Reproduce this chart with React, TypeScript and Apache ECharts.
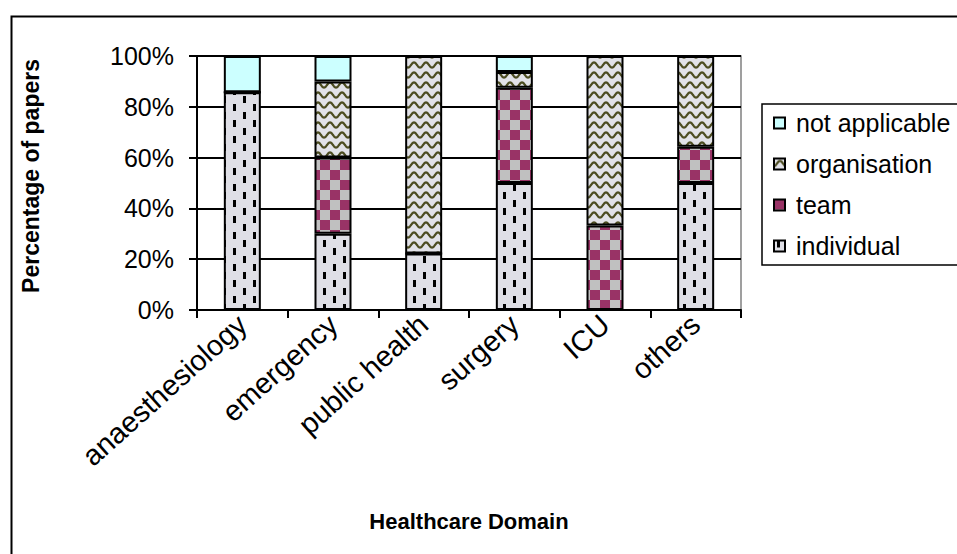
import React, { useEffect, useRef } from "react";
import * as echarts from "echarts";

// Share of papers (%) per healthcare domain, split by level of analysis
const categories = ["anaesthesiology", "emergency", "public health", "surgery", "ICU", "others"];
const individual = [85.7, 30, 22.2, 50, 0, 50];
const team = [0, 30, 0, 37.5, 33.3, 14.3];
const organisation = [0, 30, 77.8, 6.25, 66.7, 35.7];
const notApplicable = [14.3, 10, 0, 6.25, 0, 0];
const legendOrder = ["not applicable", "organisation", "team", "individual"];

const FONT = "'Liberation Sans', Arial, Helvetica, sans-serif";

// Build a repeating fill pattern from a small canvas tile
function makeTile(w: number, h: number, draw: (ctx: CanvasRenderingContext2D) => void) {
  const c = document.createElement("canvas");
  c.width = w;
  c.height = h;
  const ctx = c.getContext("2d") as CanvasRenderingContext2D;
  draw(ctx);
  return { image: c.toDataURL(), repeat: "repeat", imageWidth: w, imageHeight: h } as any;
}

export default function App() {
  const ref = useRef<HTMLDivElement>(null);

  useEffect(() => {
    document.body.style.margin = "0";
    if (!ref.current) return;
    const chart = echarts.init(ref.current, undefined, { renderer: "svg" });

    // dashed vertical strokes on light grey
    const dashFill = makeTile(20, 16, (ctx) => {
      ctx.fillStyle = "#dfdfe6";
      ctx.fillRect(0, 0, 20, 16);
      ctx.fillStyle = "#000000";
      ctx.fillRect(3, 0, 3, 7);
      ctx.fillRect(13, 8, 3, 7);
    });
    // checkerboard, plum and silver
    const checkFill = makeTile(20, 20, (ctx) => {
      ctx.fillStyle = "#c0c0c0";
      ctx.fillRect(0, 0, 20, 20);
      ctx.fillStyle = "#993366";
      ctx.fillRect(0, 0, 10, 10);
      ctx.fillRect(10, 10, 10, 10);
    });
    // olive wavy lines on light grey
    const waveFill = makeTile(12, 10, (ctx) => {
      ctx.fillStyle = "#e2e2e8";
      ctx.fillRect(0, 0, 12, 10);
      ctx.strokeStyle = "#4d4d22";
      ctx.lineWidth = 2.2;
      ctx.beginPath();
      for (let x = -1; x <= 13; x += 0.5) {
        const y = 5 + 2.6 * Math.cos((2 * Math.PI * x) / 12);
        if (x === -1) ctx.moveTo(x, y);
        else ctx.lineTo(x, y);
      }
      ctx.stroke();
    });

    const barBase = {
      type: "bar" as const,
      stack: "total",
      barWidth: 37,
      emphasis: { disabled: true },
      itemStyle: { borderColor: "#000", borderWidth: 2 },
    };

    chart.setOption({
      animation: false,
      textStyle: { fontFamily: FONT },
      graphic: [
        {
          type: "rect",
          left: 9,
          top: 14,
          shape: { x: 0, y: 0, width: 1400, height: 900 },
          style: { fill: "none", stroke: "#000", lineWidth: 2 },
          silent: true,
          z: -1,
        },
      ],
      grid: {
        left: 197,
        right: 216,
        top: 56,
        bottom: 244,
        show: true,
        borderColor: "#808080",
        borderWidth: 1.5,
      },
      legend: {
        data: legendOrder,
        orient: "vertical",
        left: 762,
        top: 104,
        padding: [5, 30, 5, 11],
        itemWidth: 11,
        itemHeight: 11,
        itemGap: 13,
        icon: "rect",
        borderColor: "#000",
        borderWidth: 1.5,
        textStyle: { fontSize: 25, lineHeight: 28, color: "#000", fontFamily: FONT, padding: [0, 0, 0, 6] },
      },
      xAxis: {
        type: "category",
        data: categories,
        name: "Healthcare Domain",
        nameLocation: "middle",
        nameGap: 200,
        nameTextStyle: { fontWeight: "bold", fontSize: 22, color: "#000", fontFamily: FONT },
        axisLine: { lineStyle: { color: "#000", width: 2 } },
        axisTick: { show: true, length: 8, alignWithLabel: false, interval: 0, lineStyle: { color: "#000", width: 2 } },
        axisLabel: { rotate: 42, interval: 0, fontSize: 29, color: "#000", margin: 10, fontFamily: FONT },
      },
      yAxis: {
        type: "value",
        min: 0,
        max: 100,
        interval: 20,
        name: "Percentage of papers",
        nameLocation: "middle",
        nameGap: 155,
        nameTextStyle: { fontWeight: "bold", fontSize: 23, color: "#000", fontFamily: FONT, padding: [0, 0, 0, 14] },
        axisLine: { show: true, lineStyle: { color: "#000", width: 2 } },
        axisTick: { show: true, length: 8, lineStyle: { color: "#000", width: 2 } },
        axisLabel: { formatter: "{value}%", fontSize: 25, color: "#000", margin: 23, fontFamily: FONT },
        splitLine: { show: true, lineStyle: { color: "#000", width: 2 } },
      },
      series: [
        { ...barBase, name: "individual", data: individual, itemStyle: { ...barBase.itemStyle, color: dashFill } },
        { ...barBase, name: "team", data: team, itemStyle: { ...barBase.itemStyle, color: checkFill } },
        { ...barBase, name: "organisation", data: organisation, itemStyle: { ...barBase.itemStyle, color: waveFill } },
        { ...barBase, name: "not applicable", data: notApplicable, itemStyle: { ...barBase.itemStyle, color: "#ccffff" } },
      ],
    });

    return () => chart.dispose();
  }, []);

  return <div ref={ref} style={{ width: 957, height: 554 }} />;
}
